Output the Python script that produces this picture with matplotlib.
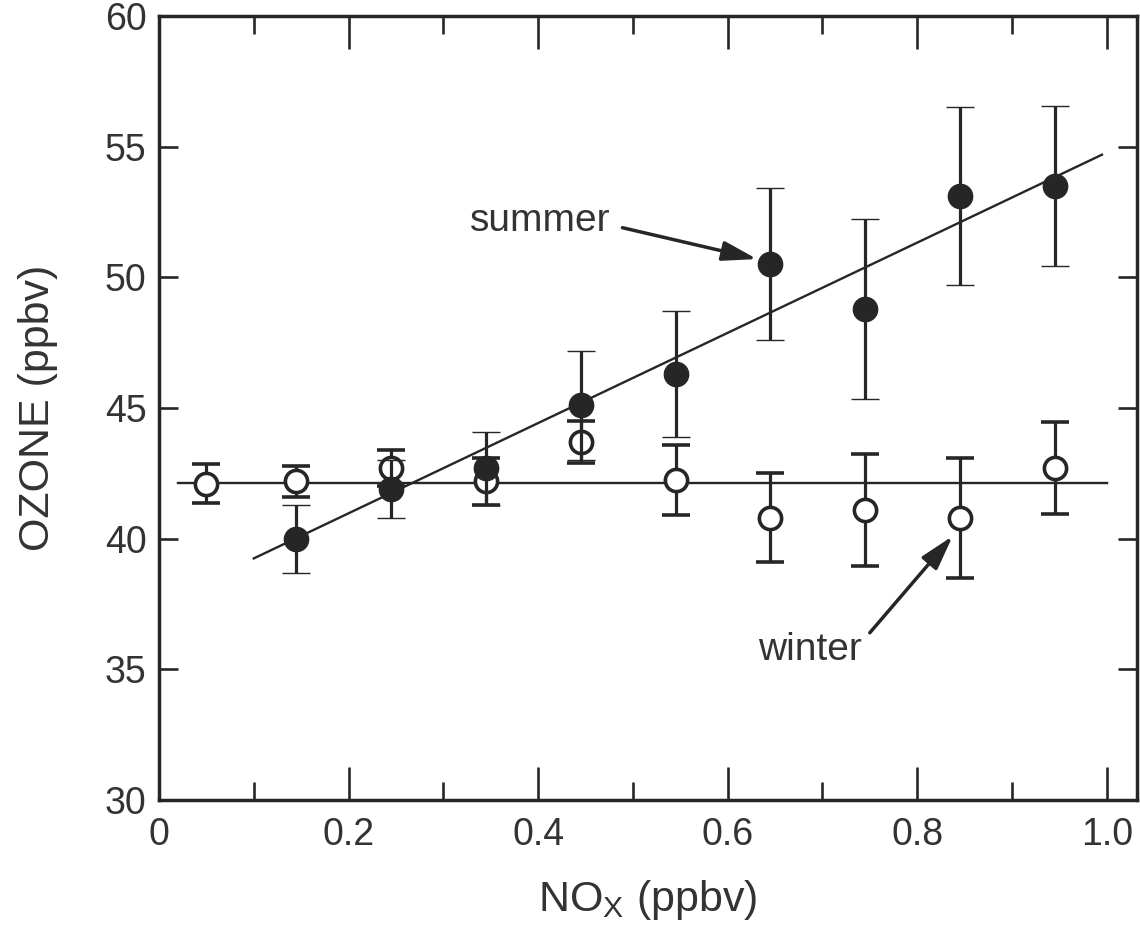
import matplotlib
matplotlib.use("Agg")
import matplotlib.pyplot as plt
import numpy as np

plt.rcParams['font.family'] = ['Liberation Sans', 'DejaVu Sans']
plt.rcParams['mathtext.fontset'] = 'custom'
plt.rcParams['mathtext.rm'] = 'Liberation Sans'

# ---- data ----
summer_x = [0.145, 0.245, 0.345, 0.445, 0.545, 0.645, 0.745, 0.845, 0.945]
summer_y = [40.0, 41.9, 42.7, 45.1, 46.3, 50.5, 48.8, 53.1, 53.5]
summer_err = [1.3, 1.1, 1.4, 2.1, 2.4, 2.9, 3.45, 3.4, 3.05]

winter_x = [0.05, 0.145, 0.245, 0.345, 0.445, 0.545, 0.645, 0.745, 0.845, 0.945]
winter_y = [42.1, 42.2, 42.7, 42.2, 43.7, 42.25, 40.8, 41.1, 40.8, 42.7]
winter_err = [0.75, 0.6, 0.7, 0.9, 0.8, 1.35, 1.7, 2.15, 2.3, 1.75]

summer_fit = {"slope": 17.26, "intercept": 37.52, "x_range": [0.1, 0.995]}
winter_fit = {"slope": 0.0, "intercept": 42.15, "x_range": [0.02, 1.0]}

x_ticks = [0, 0.2, 0.4, 0.6, 0.8, 1.0]
x_ticklabels = ["0", "0.2", "0.4", "0.6", "0.8", "1.0"]
y_ticks = [30, 35, 40, 45, 50, 55, 60]

dark = '#262626'
txt = '#333333'

fig = plt.figure(figsize=(11.4, 9.42), dpi=100)
ax = fig.add_axes([0.1395, 0.1507, 0.9974 - 0.1395, 0.983 - 0.1507])

for fit in (summer_fit, winter_fit):
    xs = np.array(fit["x_range"])
    ax.plot(xs, fit["intercept"] + fit["slope"] * xs, color=dark, lw=1.7, zorder=1)

ax.errorbar(winter_x, winter_y, yerr=winter_err, fmt='o', ms=16, mfc='white',
            mec=dark, mew=2.6, ecolor=dark, elinewidth=2.3, capsize=10,
            capthick=2.6, zorder=2)
ax.errorbar(summer_x, summer_y, yerr=summer_err, fmt='o', ms=17.5, mfc=dark,
            mec=dark, mew=1, ecolor=dark, elinewidth=2.3, capsize=10,
            capthick=2.6, zorder=3)

ax.set_xlim(0, 1.032)
ax.set_ylim(30, 60)
ax.set_xticks(x_ticks)
ax.set_xticklabels(x_ticklabels)
ax.set_xticks(np.arange(0.1, 1.0, 0.2), minor=True)
ax.set_yticks(y_ticks)

ax.tick_params(axis='x', which='major', direction='in', length=24, width=1.9,
               top=True, bottom=True, labelsize=27, pad=12, colors=dark,
               labelcolor=txt)
ax.tick_params(axis='x', which='minor', direction='in', length=13, width=1.9,
               top=True, bottom=True, colors=dark)
ax.tick_params(axis='y', which='major', direction='in', length=14, width=1.9,
               left=True, right=True, labelsize=27, pad=9, colors=dark,
               labelcolor=txt)

for s in ax.spines.values():
    s.set_linewidth(2.5)
    s.set_color(dark)

ax.set_ylabel('OZONE (ppbv)', fontsize=31, color=txt, labelpad=34)
ax.set_xlabel(r'NO$_\mathregular{X}$ (ppbv)', fontsize=31, color=txt, labelpad=18)

ax.text(0.402, 52.15, 'summer', fontsize=28, color=txt, ha='center', va='center')
ax.annotate('', xy=(0.631, 50.7), xytext=(0.489, 51.9),
            arrowprops=dict(arrowstyle='-|>,head_length=0.7,head_width=0.2',
                            mutation_scale=30, color=dark, lw=2.5,
                            shrinkA=0, shrinkB=0))
ax.text(0.687, 35.75, 'winter', fontsize=28, color=txt, ha='center', va='center')
ax.annotate('', xy=(0.8375, 40.1), xytext=(0.75, 36.4),
            arrowprops=dict(arrowstyle='-|>,head_length=0.7,head_width=0.2',
                            mutation_scale=30, color=dark, lw=2.5,
                            shrinkA=0, shrinkB=0))

fig.savefig('out.png', dpi=100)
